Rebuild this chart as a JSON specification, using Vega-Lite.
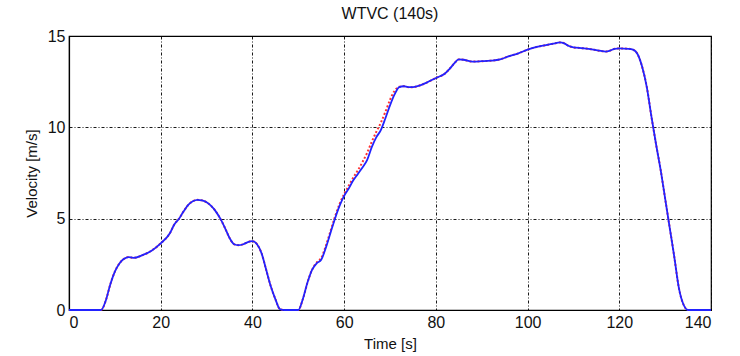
{
  "$schema": "https://vega.github.io/schema/vega-lite/v6.json",
  "autosize": "none",
  "width": 642,
  "height": 274,
  "padding": {"left": 69, "top": 36, "right": 29, "bottom": 46},
  "background": "white",
  "title": {"text": "WTVC (140s)", "fontSize": 16, "fontWeight": "normal", "font": "Liberation Sans", "color": "#111", "offset": 6},
  "config": {
    "view": {"stroke": "black", "strokeWidth": 1.2},
    "axis": {
      "labelFont": "Liberation Sans", "labelFontSize": 16, "labelColor": "#111",
      "titleFont": "Liberation Sans", "titleFontSize": 15, "titleFontWeight": "normal", "titleColor": "#111",
      "domainColor": "black", "domainWidth": 1.2,
      "grid": true, "gridColor": "black", "gridDash": [3, 2, 1, 2], "gridWidth": 1, "gridOpacity": 0.9,
      "ticks": false, "labelPadding": 4
    }
  },
  "data": {"values": [
    {"t":0,"v":0,"s":"act"},{"t":7,"v":0,"s":"act"},{"t":8,"v":0.5,"s":"act"},{"t":9,"v":1.4,"s":"act"},{"t":10,"v":2.1,"s":"act"},{"t":11,"v":2.55,"s":"act"},{"t":12,"v":2.8,"s":"act"},{"t":13,"v":2.9,"s":"act"},{"t":14,"v":2.85,"s":"act"},{"t":16,"v":3.0,"s":"act"},{"t":18,"v":3.25,"s":"act"},{"t":20,"v":3.65,"s":"act"},{"t":22,"v":4.2,"s":"act"},{"t":23,"v":4.7,"s":"act"},{"t":24,"v":5.0,"s":"act"},{"t":25,"v":5.4,"s":"act"},{"t":26,"v":5.75,"s":"act"},{"t":27,"v":5.95,"s":"act"},{"t":28,"v":6.03,"s":"act"},{"t":29,"v":6.0,"s":"act"},{"t":30,"v":5.9,"s":"act"},{"t":31,"v":5.7,"s":"act"},{"t":32,"v":5.4,"s":"act"},{"t":33,"v":5.0,"s":"act"},{"t":34,"v":4.5,"s":"act"},{"t":35,"v":3.95,"s":"act"},{"t":36,"v":3.6,"s":"act"},{"t":37,"v":3.55,"s":"act"},{"t":38,"v":3.6,"s":"act"},{"t":39,"v":3.72,"s":"act"},{"t":40,"v":3.77,"s":"act"},{"t":41,"v":3.6,"s":"act"},{"t":42,"v":3.1,"s":"act"},{"t":43,"v":2.2,"s":"act"},{"t":44,"v":1.3,"s":"act"},{"t":45,"v":0.6,"s":"act"},{"t":46,"v":0.05,"s":"act"},{"t":47,"v":0,"s":"act"},{"t":50,"v":0,"s":"act"},{"t":51,"v":0.6,"s":"act"},{"t":52,"v":1.5,"s":"act"},{"t":53,"v":2.2,"s":"act"},{"t":54,"v":2.55,"s":"act"},{"t":55,"v":2.75,"s":"act"},{"t":56,"v":3.4,"s":"act"},{"t":57,"v":4.2,"s":"act"},{"t":58,"v":5.0,"s":"act"},{"t":59,"v":5.7,"s":"act"},{"t":60,"v":6.25,"s":"act"},{"t":61,"v":6.65,"s":"act"},{"t":62,"v":7.1,"s":"act"},{"t":63,"v":7.45,"s":"act"},{"t":64,"v":7.8,"s":"act"},{"t":65,"v":8.2,"s":"act"},{"t":66,"v":8.9,"s":"act"},{"t":67,"v":9.45,"s":"act"},{"t":68,"v":9.85,"s":"act"},{"t":69,"v":10.5,"s":"act"},{"t":70,"v":11.2,"s":"act"},{"t":71,"v":11.8,"s":"act"},{"t":72,"v":12.2,"s":"act"},{"t":73,"v":12.25,"s":"act"},{"t":74,"v":12.2,"s":"act"},{"t":75,"v":12.2,"s":"act"},{"t":76,"v":12.25,"s":"act"},{"t":78,"v":12.45,"s":"act"},{"t":80,"v":12.7,"s":"act"},{"t":82,"v":12.95,"s":"act"},{"t":83,"v":13.2,"s":"act"},{"t":84,"v":13.5,"s":"act"},{"t":85,"v":13.72,"s":"act"},{"t":86,"v":13.7,"s":"act"},{"t":88,"v":13.6,"s":"act"},{"t":90,"v":13.62,"s":"act"},{"t":92,"v":13.65,"s":"act"},{"t":94,"v":13.72,"s":"act"},{"t":96,"v":13.9,"s":"act"},{"t":98,"v":14.05,"s":"act"},{"t":100,"v":14.25,"s":"act"},{"t":102,"v":14.4,"s":"act"},{"t":104,"v":14.5,"s":"act"},{"t":106,"v":14.6,"s":"act"},{"t":107,"v":14.65,"s":"act"},{"t":108,"v":14.6,"s":"act"},{"t":109,"v":14.45,"s":"act"},{"t":110,"v":14.38,"s":"act"},{"t":112,"v":14.33,"s":"act"},{"t":114,"v":14.27,"s":"act"},{"t":116,"v":14.18,"s":"act"},{"t":117,"v":14.15,"s":"act"},{"t":118,"v":14.2,"s":"act"},{"t":119,"v":14.3,"s":"act"},{"t":120,"v":14.32,"s":"act"},{"t":122,"v":14.3,"s":"act"},{"t":123,"v":14.25,"s":"act"},{"t":124,"v":14.0,"s":"act"},{"t":125,"v":13.3,"s":"act"},{"t":126,"v":12.2,"s":"act"},{"t":127,"v":10.6,"s":"act"},{"t":128,"v":9.1,"s":"act"},{"t":129,"v":7.7,"s":"act"},{"t":130,"v":6.1,"s":"act"},{"t":131,"v":4.5,"s":"act"},{"t":132,"v":2.9,"s":"act"},{"t":133,"v":1.2,"s":"act"},{"t":134,"v":0.3,"s":"act"},{"t":135,"v":0,"s":"act"},{"t":140,"v":0,"s":"act"},
    {"t":0,"v":0,"s":"ref"},{"t":7,"v":0,"s":"ref"},{"t":8,"v":0.5,"s":"ref"},{"t":9,"v":1.4,"s":"ref"},{"t":10,"v":2.1,"s":"ref"},{"t":11,"v":2.55,"s":"ref"},{"t":12,"v":2.8,"s":"ref"},{"t":13,"v":2.9,"s":"ref"},{"t":14,"v":2.85,"s":"ref"},{"t":16,"v":3.0,"s":"ref"},{"t":18,"v":3.25,"s":"ref"},{"t":20,"v":3.65,"s":"ref"},{"t":22,"v":4.2,"s":"ref"},{"t":23,"v":4.7,"s":"ref"},{"t":24,"v":5.0,"s":"ref"},{"t":25,"v":5.4,"s":"ref"},{"t":26,"v":5.75,"s":"ref"},{"t":27,"v":5.95,"s":"ref"},{"t":28,"v":6.03,"s":"ref"},{"t":29,"v":6.0,"s":"ref"},{"t":30,"v":5.9,"s":"ref"},{"t":31,"v":5.7,"s":"ref"},{"t":32,"v":5.4,"s":"ref"},{"t":33,"v":5.0,"s":"ref"},{"t":34,"v":4.5,"s":"ref"},{"t":35,"v":3.95,"s":"ref"},{"t":36,"v":3.6,"s":"ref"},{"t":37,"v":3.55,"s":"ref"},{"t":38,"v":3.6,"s":"ref"},{"t":39,"v":3.72,"s":"ref"},{"t":40,"v":3.77,"s":"ref"},{"t":41,"v":3.6,"s":"ref"},{"t":42,"v":3.1,"s":"ref"},{"t":43,"v":2.2,"s":"ref"},{"t":44,"v":1.3,"s":"ref"},{"t":45,"v":0.6,"s":"ref"},{"t":46,"v":0.05,"s":"ref"},{"t":47,"v":0,"s":"ref"},{"t":50,"v":0,"s":"ref"},{"t":51,"v":0.6,"s":"ref"},{"t":52,"v":1.5,"s":"ref"},{"t":53,"v":2.2,"s":"ref"},{"t":54,"v":2.6,"s":"ref"},{"t":55,"v":2.85,"s":"ref"},{"t":56,"v":3.5,"s":"ref"},{"t":57,"v":4.3,"s":"ref"},{"t":58,"v":5.1,"s":"ref"},{"t":59,"v":5.8,"s":"ref"},{"t":60,"v":6.35,"s":"ref"},{"t":61,"v":6.8,"s":"ref"},{"t":62,"v":7.25,"s":"ref"},{"t":63,"v":7.65,"s":"ref"},{"t":64,"v":8.1,"s":"ref"},{"t":65,"v":8.6,"s":"ref"},{"t":66,"v":9.2,"s":"ref"},{"t":67,"v":9.75,"s":"ref"},{"t":68,"v":10.25,"s":"ref"},{"t":69,"v":10.85,"s":"ref"},{"t":70,"v":11.5,"s":"ref"},{"t":71,"v":12.0,"s":"ref"},{"t":72,"v":12.22,"s":"ref"},{"t":73,"v":12.25,"s":"ref"},{"t":74,"v":12.2,"s":"ref"},{"t":75,"v":12.2,"s":"ref"},{"t":76,"v":12.25,"s":"ref"},{"t":78,"v":12.45,"s":"ref"},{"t":80,"v":12.7,"s":"ref"},{"t":82,"v":12.95,"s":"ref"},{"t":83,"v":13.2,"s":"ref"},{"t":84,"v":13.5,"s":"ref"},{"t":85,"v":13.72,"s":"ref"},{"t":86,"v":13.7,"s":"ref"},{"t":88,"v":13.6,"s":"ref"},{"t":90,"v":13.62,"s":"ref"},{"t":92,"v":13.65,"s":"ref"},{"t":94,"v":13.72,"s":"ref"},{"t":96,"v":13.9,"s":"ref"},{"t":98,"v":14.05,"s":"ref"},{"t":100,"v":14.25,"s":"ref"},{"t":102,"v":14.4,"s":"ref"},{"t":104,"v":14.5,"s":"ref"},{"t":106,"v":14.6,"s":"ref"},{"t":107,"v":14.65,"s":"ref"},{"t":108,"v":14.6,"s":"ref"},{"t":109,"v":14.45,"s":"ref"},{"t":110,"v":14.38,"s":"ref"},{"t":112,"v":14.33,"s":"ref"},{"t":114,"v":14.27,"s":"ref"},{"t":116,"v":14.18,"s":"ref"},{"t":117,"v":14.15,"s":"ref"},{"t":118,"v":14.2,"s":"ref"},{"t":119,"v":14.3,"s":"ref"},{"t":120,"v":14.32,"s":"ref"},{"t":122,"v":14.3,"s":"ref"},{"t":123,"v":14.25,"s":"ref"},{"t":124,"v":14.0,"s":"ref"},{"t":125,"v":13.3,"s":"ref"},{"t":126,"v":12.2,"s":"ref"},{"t":127,"v":10.6,"s":"ref"},{"t":128,"v":9.1,"s":"ref"},{"t":129,"v":7.7,"s":"ref"},{"t":130,"v":6.1,"s":"ref"},{"t":131,"v":4.5,"s":"ref"},{"t":132,"v":2.9,"s":"ref"},{"t":133,"v":1.2,"s":"ref"},{"t":134,"v":0.3,"s":"ref"},{"t":135,"v":0,"s":"ref"},{"t":140,"v":0,"s":"ref"}
  ]},
  "encoding": {
    "x": {"field": "t", "type": "quantitative", "title": "Time [s]", "scale": {"domain": [0, 140], "nice": false}, "axis": {"values": [0, 20, 40, 60, 80, 100, 120, 140], "titlePadding": 6}},
    "y": {"field": "v", "type": "quantitative", "title": "Velocity [m/s]", "scale": {"domain": [0, 15], "nice": false}, "axis": {"values": [0, 5, 10, 15], "titlePadding": 8}}
  },
  "layer": [
    {"transform": [{"filter": "datum.s === 'ref'"}], "mark": {"type": "line", "color": "#ff3030", "strokeWidth": 2, "strokeDash": [2, 2], "interpolate": "monotone"}},
    {"transform": [{"filter": "datum.s === 'act'"}], "mark": {"type": "line", "color": "#2222ff", "strokeWidth": 1.8, "interpolate": "monotone"}}
  ]
}
